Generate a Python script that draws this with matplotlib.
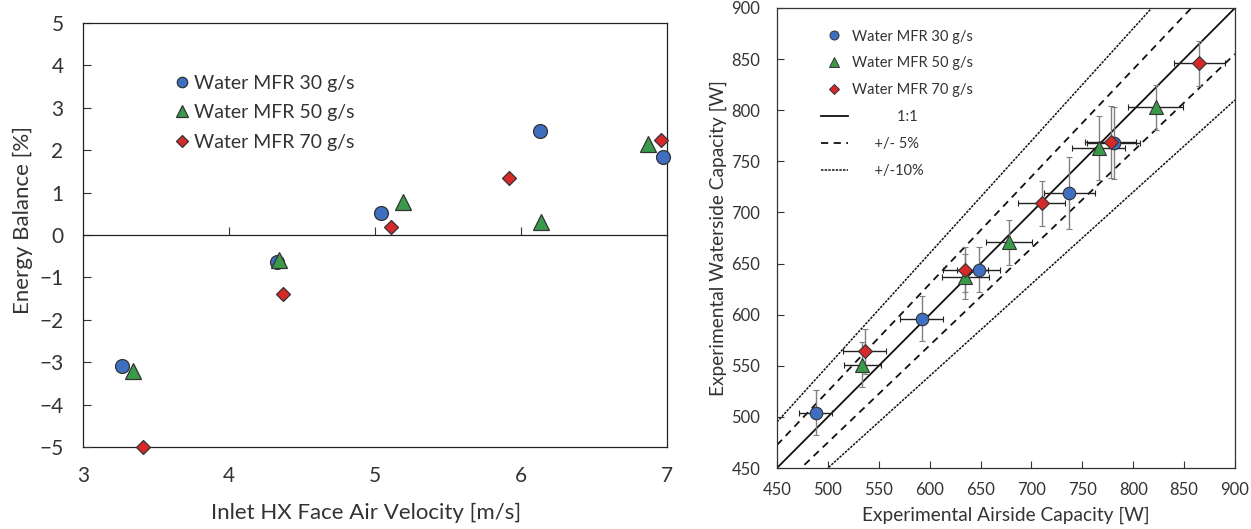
import matplotlib
matplotlib.use("Agg")
import matplotlib.pyplot as plt
from matplotlib.lines import Line2D
import numpy as np

plt.rcParams['font.family'] = ['Lato', 'DejaVu Sans']

# ---- Left panel data: energy balance vs face velocity ----
v30 = [3.27, 4.33, 5.04, 6.13, 6.97]
eb30 = [-3.1, -0.64, 0.52, 2.45, 1.85]
v50 = [3.34, 4.34, 5.19, 6.14, 6.87]
eb50 = [-3.2, -0.6, 0.78, 0.3, 2.15]
v70 = [3.41, 4.37, 5.11, 5.92, 6.96]
eb70 = [-5.0, -1.4, 0.18, 1.35, 2.25]

# ---- Right panel data: waterside vs airside capacity ----
air30 = [488, 592, 648, 737, 781]
wat30 = [504, 596, 644, 719, 768]
air30_err = [16, 21, 21, 25, 26]
wat30_err = [22, 22, 22, 35, 35]

air50 = [534, 635, 678, 766, 822]
wat50 = [551, 637, 671, 763, 803]
air50_err = [18, 23, 23, 26, 27]
wat50_err = [22, 22, 22, 31, 22]

air70 = [536, 635, 710, 778, 865]
wat70 = [564, 644, 709, 769, 846]
air70_err = [21, 22, 23, 25, 25]
wat70_err = [22, 22, 22, 35, 22]

labels = ['Water MFR 30 g/s', 'Water MFR 50 g/s', 'Water MFR 70 g/s']
colors = ['#3f6fc1', '#3a9a4a', '#d62a2a']
markers = ['o', '^', 'D']
edge = '#333333'
txt = '#333333'

fig = plt.figure(figsize=(12.51, 5.29), dpi=100)

# ================= Left =================
ax1 = fig.add_axes([0.0663, 0.155, 0.4668, 0.8015])
sizes1 = [10, 12, 7.5]
for vx, vy, c, m, s, lab in zip([v30, v50, v70], [eb30, eb50, eb70],
                                colors, markers, sizes1, labels):
    ax1.plot(vx, vy, linestyle='none', marker=m, ms=s, mfc=c, mec=edge,
             mew=0.9, label=lab, zorder=3, clip_on=False)
ax1.set_xlim(3, 7)
ax1.set_ylim(-5, 5)
# x axis line crosses at y = 0 with inward ticks, labels at the bottom
ax1.spines['bottom'].set_position(('data', 0))
ax1.set_xticks([4, 5, 6])
ax1.tick_params(axis='x', direction='in', length=6, width=0.8,
                color='#333333', labelbottom=False)
ax1.set_yticks(range(-5, 6))
ax1.tick_params(axis='y', direction='in', length=6, labelsize=15, pad=14,
                colors=txt, width=0.8)
for sp in ax1.spines.values():
    sp.set_color('#222222')
    sp.set_linewidth(0.9)
bot = ax1.secondary_xaxis('bottom')
bot.set_xticks([3, 4, 5, 6, 7])
bot.tick_params(length=0, labelsize=15, pad=14, colors=txt)
bot.spines['bottom'].set_color('#222222')
bot.spines['bottom'].set_linewidth(0.9)
ax1.text(0.485, -0.132, 'Inlet HX Face Air Velocity [m/s]', fontsize=16,
         color=txt, ha='center', va='top', transform=ax1.transAxes)
ax1.set_ylabel('Energy Balance [%]', fontsize=16, color=txt)
ax1.yaxis.set_label_coords(-0.0856, 0.535)
leg1 = ax1.legend(loc='upper left', bbox_to_anchor=(0.136, 0.901),
                  frameon=False, fontsize=14, handletextpad=0.15,
                  labelspacing=0.64, handlelength=1.0, borderpad=0,
                  markerscale=0.75)
for t in leg1.get_texts():
    t.set_color(txt)

# ================= Right =================
ax2 = fig.add_axes([0.6211, 0.1153, 0.3661, 0.8696])
xl = np.array([450, 900])
ax2.plot(xl, xl, color='#111111', lw=1.3, zorder=1)
ax2.plot(xl, 1.05 * xl, color='#111111', lw=1.3, ls=(0, (4, 3)), zorder=1)
ax2.plot(xl, 0.95 * xl, color='#111111', lw=1.3, ls=(0, (4, 3)), zorder=1)
ax2.plot(xl, 1.10 * xl, color='#111111', lw=1.1, ls=(0, (1.6, 0.8)), zorder=1)
ax2.plot(xl, 0.90 * xl, color='#111111', lw=1.1, ls=(0, (1.6, 0.8)), zorder=1)

sizes2 = [9, 10, 7]
for ax_, wy, axe, wye, c, m, s in zip([air30, air50, air70],
                                      [wat30, wat50, wat70],
                                      [air30_err, air50_err, air70_err],
                                      [wat30_err, wat50_err, wat70_err],
                                      colors, markers, sizes2):
    ax2.errorbar(ax_, wy, yerr=wye, fmt='none', ecolor='#808080',
                 elinewidth=1.0, capsize=2.5, capthick=0.8, zorder=2)
    ax2.errorbar(ax_, wy, xerr=axe, fmt='none', ecolor='#222222',
                 elinewidth=1.0, capsize=2.5, capthick=0.8, zorder=2)
    ax2.plot(ax_, wy, linestyle='none', marker=m, ms=s, mfc=c, mec=edge,
             mew=0.8, zorder=3)

ax2.set_xlim(450, 900)
ax2.set_ylim(450, 900)
ax2.set_xticks(range(450, 901, 50))
ax2.set_yticks(range(450, 901, 50))
ax2.tick_params(direction='in', length=5, labelsize=12, colors=txt,
                width=0.8)
ax2.tick_params(axis='x', pad=10)
ax2.tick_params(axis='y', pad=12)
for sp in ax2.spines.values():
    sp.set_color('#333333')
    sp.set_linewidth(0.9)
ax2.set_xlabel('Experimental Airside Capacity [W]', fontsize=13.8,
               color=txt, labelpad=6)
ax2.set_ylabel('Experimental Waterside Capacity [W]', fontsize=13.8,
               color=txt, labelpad=3)

handles = [Line2D([], [], ls='none', marker=m, ms=s, mfc=c, mec=edge, mew=0.7)
           for m, s, c in zip(markers, [6.5, 7, 5.5], colors)]
handles += [Line2D([], [], color='#111111', lw=1.3),
            Line2D([], [], color='#111111', lw=1.3, ls=(0, (4, 3))),
            Line2D([], [], color='#111111', lw=1.1, ls=(0, (1.6, 0.8)))]
leg_labels = labels + ['            1:1', '      +/- 5%', '      +/-10%']
leg2 = ax2.legend(handles, leg_labels, loc='upper left',
                  bbox_to_anchor=(0.08, 0.969), frameon=False,
                  fontsize=10.5, handlelength=1.85, handletextpad=0.3,
                  labelspacing=0.88, borderpad=0)
for t in leg2.get_texts():
    t.set_color(txt)

fig.savefig('out.png', dpi=100)
